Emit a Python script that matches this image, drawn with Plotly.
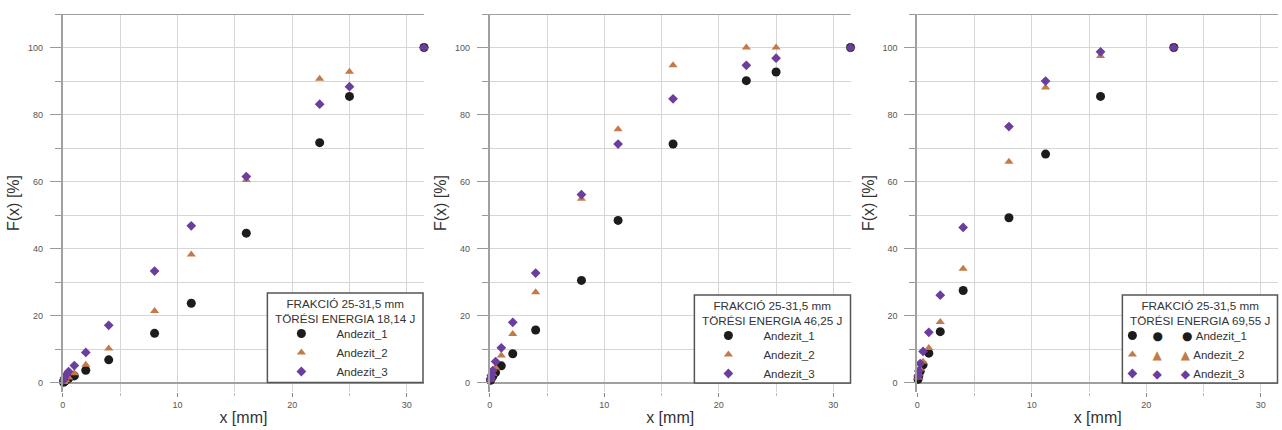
import plotly.graph_objects as go

# sieve sizes [mm]
sieves = [0.063, 0.125, 0.25, 0.5, 1, 2, 4, 8, 11.2, 16, 22.4, 25, 31.5]
sieves_3 = [0.063, 0.125, 0.25, 0.5, 1, 2, 4, 8, 11.2, 16, 22.4]

# panel 1 - 18,14 J
p1_a1 = [0.1, 0.3, 0.6, 1.2, 2.0, 3.7, 6.8, 14.7, 23.7, 44.6, 71.6, 85.4, 100]
p1_a2 = [0.2, 0.4, 0.8, 1.5, 2.8, 5.3, 10.2, 21.4, 38.2, 60.5, 90.7, 92.8, 100]
p1_a3 = [0.8, 1.4, 2.2, 3.3, 5.1, 9.0, 17.1, 33.3, 46.8, 61.5, 83.1, 88.3, 100]

# panel 2 - 46,25 J
p2_a1 = [0.7, 1.2, 1.8, 3.0, 5.0, 8.6, 15.7, 30.5, 48.4, 71.2, 90.1, 92.7, 100]
p2_a2 = [0.9, 1.6, 2.6, 4.5, 8.1, 14.5, 27.0, 54.9, 75.6, 94.7, 100, 100, 100]
p2_a3 = [1.2, 2.2, 3.6, 6.3, 10.4, 18.0, 32.7, 56.1, 71.2, 84.7, 94.7, 96.8, 100]

# panel 3 - 69,55 J
p3_a1 = [1.0, 2.0, 3.4, 5.3, 8.8, 15.2, 27.5, 49.2, 68.2, 85.4, 100]
p3_a2 = [1.5, 2.6, 4.1, 6.2, 10.3, 18.1, 34.0, 65.9, 88.1, 97.5, 100]
p3_a3 = [2.0, 3.5, 5.7, 9.3, 15.0, 26.1, 46.3, 76.4, 90.0, 98.7, 100]

names = ["Andezit_1", "Andezit_2", "Andezit_3"]
energies = ["18,14", "46,25", "69,55"]

symbols = ["circle", "triangle-up", "diamond"]
glyphs = ["●", "▲", "◆"]
colors = ["#1c1c1c", "#c47a48", "#6a3d9e"]
sizes = [9, 8, 7.5]

panels = [
    (sieves, [p1_a1, p1_a2, p1_a3]),
    (sieves, [p2_a1, p2_a2, p2_a3]),
    (sieves_3, [p3_a1, p3_a2, p3_a3]),
]

W, H = 1282, 430
x_dom = [(60, 422), (488, 849.5), (916.5, 1278)]
y_dom = (1 - 392 / H, 1 - 14 / H)
# legend boxes (px): left, right, top, bottom
boxes = [(265, 421, 293, 382.5), (693, 849.5, 295, 383), (1122, 1277.5, 295, 383)]
legend_left = [264, 692, 1112]
legend_itemw = [60, 60, 30]

grid = "#d6d6d6"
axis_grey = "#a0a0a0"
font_family = "Liberation Sans, Arial, sans-serif"
tick_font = dict(family=font_family, size=9, color="#555555")
title_font = dict(family=font_family, size=16, color="#333333")
legend_font = dict(family=font_family, size=11.5, color="#333333")

fig = go.Figure()

for i, (xs, series) in enumerate(panels):
    n = "" if i == 0 else str(i + 1)
    leg = "legend" + n
    for j, ys in enumerate(series):
        label = names[j]
        if i == 2:
            # this panel's legend shows the symbol three times
            g = ('<span style="color:%s;font-family:DejaVu Sans;font-size:12px">%s</span>'
                 % (colors[j], glyphs[j]))
            label = g + "\u00a0" * 6 + g + "\u00a0" + names[j]
        fig.add_trace(go.Scatter(
            x=xs, y=ys, mode="markers", name=label,
            xaxis="x" + n, yaxis="y" + n, legend=leg,
            cliponaxis=False,
            marker=dict(symbol=symbols[j], color=colors[j], size=sizes[j],
                        line=dict(width=0)),
        ))

    fig.update_layout({
        "xaxis" + n: dict(
            domain=[x_dom[i][0] / W, x_dom[i][1] / W],
            anchor="y" + n,
            range=[0, 31.5],
            dtick=10, tick0=0,
            showgrid=True, gridcolor=grid, gridwidth=1,
            minor=dict(dtick=5, showgrid=True, gridcolor=grid,
                       ticks="outside", ticklen=3, tickcolor="#bbbbbb"),
            ticks="outside", ticklen=4, tickcolor="#888888",
            tickfont=tick_font,
            zeroline=False, showline=False,
            title=dict(text="x [mm]", font=title_font, standoff=3),
        ),
        "yaxis" + n: dict(
            domain=list(y_dom),
            anchor="x" + n,
            range=[-2.8, 110],
            dtick=20, tick0=0,
            showgrid=True, gridcolor=grid, gridwidth=1,
            minor=dict(dtick=10, showgrid=True, gridcolor=grid,
                       ticks="outside", ticklen=6, tickcolor="#9a9a9a"),
            ticks="outside", ticklen=11, tickcolor="#9a9a9a",
            ticklabelstandoff=5,
            tickfont=tick_font,
            zeroline=True, zerolinecolor=axis_grey, zerolinewidth=2,
            showline=True, linecolor=axis_grey, linewidth=2,
            title=dict(text="F(x) [%]", font=title_font, standoff=4),
        ),
        leg: dict(
            x=legend_left[i] / W, xanchor="left",
            y=1 - (boxes[i][2] + 26) / H, yanchor="top",
            bgcolor="rgba(0,0,0,0)", borderwidth=0,
            font=legend_font,
            itemwidth=legend_itemw[i],
        ),
    })

    # top frame line of each panel
    fig.add_shape(type="line", xref="x" + n + " domain", yref="y" + n,
                  x0=0, x1=1, y0=110, y1=110,
                  line=dict(color=axis_grey, width=2))

    # legend frame and two-line heading
    bl, br, bt, bb = boxes[i]
    fig.add_shape(type="rect", xref="paper", yref="paper",
                  x0=bl / W, x1=br / W, y0=1 - bb / H, y1=1 - bt / H,
                  line=dict(color="#555555", width=1.5), fillcolor="white")
    fig.add_annotation(
        xref="paper", yref="paper", x=(bl + br) / 2 / W, y=1 - (bt + 2) / H,
        xanchor="center", yanchor="top", align="center", showarrow=False,
        text="FRAKCIÓ 25-31,5 mm<br>TÖRÉSI ENERGIA " + energies[i] + " J",
        font=dict(family=font_family, size=11.7, color="#333333"),
    )

fig.update_layout(
    width=W, height=H,
    margin=dict(l=0, r=0, t=0, b=0),
    paper_bgcolor="white", plot_bgcolor="white",
    showlegend=True,
)

fig.write_html("out.html", config={"displayModeBar": False},
               post_script="document.body.style.margin='0';")
